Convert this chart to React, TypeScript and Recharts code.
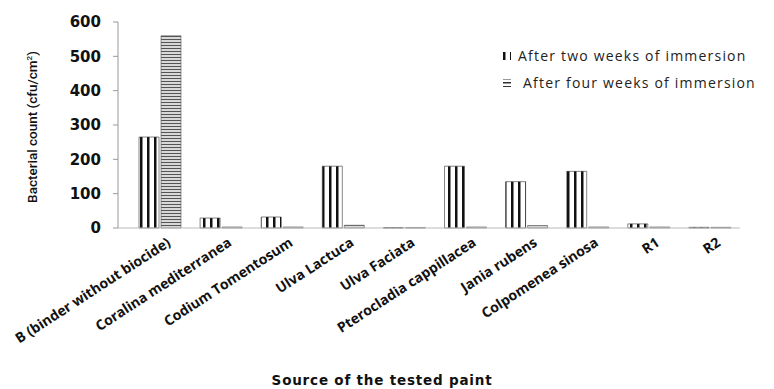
import { BarChart, Bar, XAxis, YAxis, Label } from "recharts";

const categories = [
  "B (binder without biocide)",
  "Coralina mediterranea",
  "Codium Tomentosum",
  "Ulva Lactuca",
  "Ulva Faciata",
  "Pterocladia cappillacea",
  "Jania rubens",
  "Colpomenea sinosa",
  "R1",
  "R2",
];
const twoWeeks = [265, 29, 32, 180, 1, 180, 135, 165, 12, 2];
const fourWeeks = [560, 3, 3, 8, 1, 3, 7, 3, 3, 2];
const yTicks = [0, 100, 200, 300, 400, 500, 600];

const data = categories.map((name, i) => ({
  name,
  twoWeeks: twoWeeks[i],
  fourWeeks: fourWeeks[i],
}));

const CategoryTick = ({ x, y, payload }: any) => (
  <text
    x={x + 12}
    y={y + 10}
    textAnchor="end"
    transform={`rotate(-33, ${x + 12}, ${y + 10})`}
    fontFamily="Open Sans"
    fontWeight={700}
    fontSize={14}
    fill="#111"
  >
    {payload.value}
  </text>
);

const YLabel = ({ viewBox }: any) => {
  const cx = 37;
  const cy = viewBox.y + viewBox.height / 2 + 2;
  return (
    <text
      x={cx}
      y={cy}
      transform={`rotate(-90, ${cx}, ${cy})`}
      textAnchor="middle"
      fontFamily="Roboto"
      fontWeight={500}
      fontSize={13.5}
      fill="#111"
    >
      Bacterial count (cfu/cm<tspan dy={-5} fontSize={8}>2</tspan>
      <tspan dy={5}>)</tspan>
    </text>
  );
};

const XTitle = ({ viewBox }: any) => (
  <text
    x={viewBox.x + viewBox.width / 2 - 47}
    y={viewBox.y + viewBox.height - 4}
    textAnchor="middle"
    fontFamily="DejaVu Sans"
    fontWeight={700}
    fontSize={13.5}
    letterSpacing={0.8}
    fill="#111"
  >
    Source of the tested paint
  </text>
);

const LegendBox = () => (
  <div
    style={{
      position: "absolute",
      left: 503,
      top: 42,
      fontFamily: "Open Sans",
      fontSize: 14,
      letterSpacing: 1.2,
      color: "#222",
      lineHeight: "27px",
      whiteSpace: "nowrap",
    }}
  >
    <div style={{ display: "flex", alignItems: "center" }}>
      <svg width={10} height={10} style={{ marginRight: 5 }}>
        <rect x={0} y={1} width={8} height={8} fill="url(#vstripe)" />
      </svg>
      After two weeks of immersion
    </div>
    <div style={{ display: "flex", alignItems: "center" }}>
      <svg width={10} height={10} style={{ marginRight: 10 }}>
        <rect x={0} y={1} width={8} height={8} fill="url(#hstripeLeg)" />
      </svg>
      After four weeks of immersion
    </div>
  </div>
);

export default function App() {
  return (
    <div style={{ position: "absolute", left: 0, top: 0, width: 774, height: 389, background: "#fff", overflow: "hidden" }}>
      <BarChart
        width={774}
        height={389}
        data={data}
        margin={{ top: 22, right: 34, left: 0, bottom: 0 }}
        barSize={20}
        barGap={2}
      >
        <defs>
          <pattern id="vstripe" width={7} height={10} patternUnits="userSpaceOnUse">
            <rect width={7} height={10} fill="#fff" />
            <rect width={2.5} height={10} fill="#111" />
          </pattern>
          <pattern id="hstripe" width={10} height={3} patternUnits="userSpaceOnUse">
            <rect width={10} height={3} fill="#d8d8d8" />
            <rect width={10} height={1} fill="#555" />
          </pattern>
          <pattern id="hstripeLeg" width={10} height={4} patternUnits="userSpaceOnUse">
            <rect width={10} height={4} fill="#fff" />
            <rect width={10} height={1.5} fill="#333" />
          </pattern>
        </defs>
        <XAxis
          dataKey="name"
          interval={0}
          height={161}
          padding={{ left: 11, right: 0 }}
          tick={<CategoryTick />}
          axisLine={{ stroke: "#bbb" }}
          tickLine={false}
          tickSize={5}
        >
          <Label content={<XTitle />} />
        </XAxis>
        <YAxis
          width={118}
          domain={[0, 600]}
          ticks={yTicks}
          interval={0}
          axisLine={{ stroke: "#999" }}
          tickLine={{ stroke: "#999" }}
          tickSize={5}
          tickMargin={12}
          tick={{ fontFamily: "DejaVu Sans", fontWeight: 700, fontSize: 15, fill: "#111" }}
        >
          <Label content={<YLabel />} />
        </YAxis>
        <Bar
          dataKey="twoWeeks"
          name="After two weeks of immersion"
          fill="url(#vstripe)"
          stroke="#333"
          strokeWidth={0.6}
          isAnimationActive={false}
        />
        <Bar
          dataKey="fourWeeks"
          name="After four weeks of immersion"
          fill="url(#hstripe)"
          stroke="#555"
          strokeWidth={0.6}
          isAnimationActive={false}
        />
      </BarChart>
      <LegendBox />
    </div>
  );
}
